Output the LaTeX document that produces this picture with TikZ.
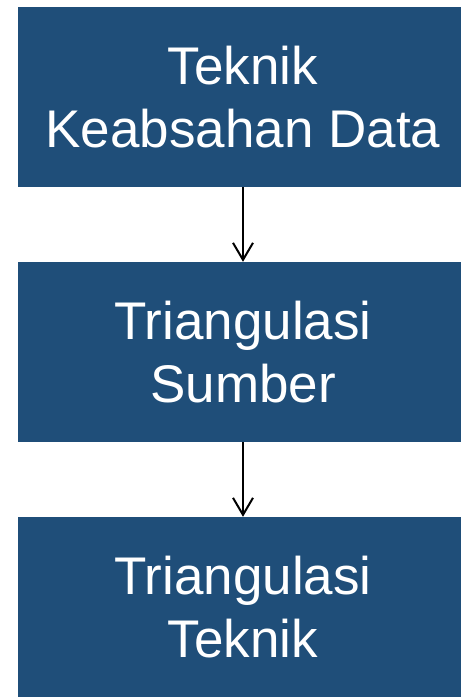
\documentclass[tikz,border=0pt]{standalone}
\usepackage{fontspec}
\setmainfont{Liberation Sans}
\usetikzlibrary{arrows.meta}
\definecolor{boxblue}{RGB}{31,78,121}
\begin{document}
\begin{tikzpicture}[x=1pt,y=-1pt,
  blockbox/.style={fill=boxblue,draw=none,minimum width=450pt,minimum height=180pt,
    inner sep=0pt,text=white,align=center,
    font=\fontsize{53pt}{63pt}\selectfont},
  flowarrow/.style={draw=black,line width=2pt,-{Straight Barb[length=17pt,width=20pt,line width=2pt]}}]
\useasboundingbox (0,0) rectangle (461,697);
\clip (0,0) rectangle (461,697);
\node[blockbox] (a) at (243,97) {Teknik\\Keabsahan Data};
\node[blockbox] (b) at (243,352) {Triangulasi\\Sumber};
\node[blockbox] (c) at (243,607) {Triangulasi\\Teknik};
\draw[flowarrow] (a.south) -- (b.north);
\draw[flowarrow] (b.south) -- (c.north);
\end{tikzpicture}
\end{document}
